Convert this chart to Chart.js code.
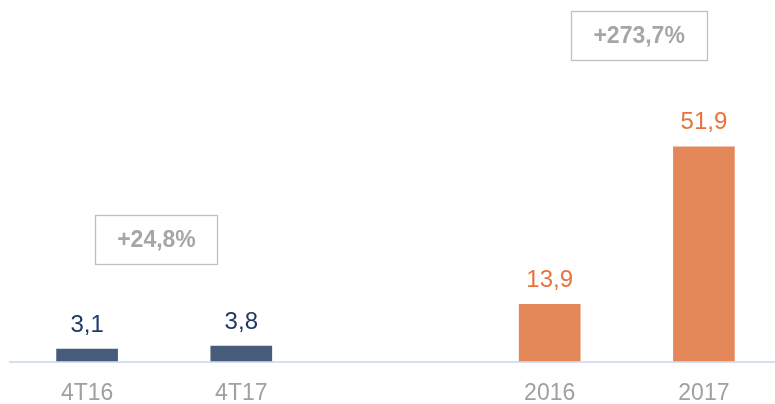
<!DOCTYPE html>
<html>
<head>
<meta charset="utf-8">
<script src="https://cdn.jsdelivr.net/npm/chart.js@4/dist/chart.umd.min.js"></script>
<style>
  html, body { margin: 0; padding: 0; background: #fff; overflow: hidden; }
  #wrap { width: 781px; height: 404px; position: relative; }
</style>
</head>
<body>
<div id="wrap"><canvas id="c"></canvas></div>
<script>
const categories = ['4T16', '4T17', '', '2016', '2017'];
const values = [3.1, 3.8, null, 13.9, 51.9];
const valueLabels = ['3,1', '3,8', '', '13,9', '51,9'];
const groups = ['q', 'q', '', 'y', 'y'];
const growthLabels = ['+24,8%', '+273,7%'];
const growthPos = [[0.45, 29.5], [3.58, 78.7]];

const barColors = { q: '#475B7A', y: '#E4885A', '': 'rgba(0,0,0,0)' };
const labelColors = { q: '#1F3864', y: '#E8743B', '': '#000' };

const FONT = '"Liberation Sans", Arial, sans-serif';

const overlay = {
  id: 'overlay',
  afterDatasetsDraw(chart) {
    const ctx = chart.ctx;
    const meta = chart.getDatasetMeta(0);
    ctx.save();
    ctx.font = '24px ' + FONT;
    ctx.textAlign = 'center';
    ctx.textBaseline = 'alphabetic';
    meta.data.forEach((bar, i) => {
      if (values[i] == null) return;
      ctx.fillStyle = labelColors[groups[i]];
      ctx.fillText(valueLabels[i], bar.x, bar.y - 17);
    });
    const xs = chart.scales.x, ys = chart.scales.y;
    const boxW = [122, 136], boxH = 49;
    growthLabels.forEach((t, i) => {
      const cx = xs.getPixelForValue(growthPos[i][0]);
      const cy = ys.getPixelForValue(growthPos[i][1]);
      ctx.strokeStyle = '#BFBFBF';
      ctx.lineWidth = 1.3;
      ctx.strokeRect(Math.round(cx - boxW[i] / 2) + 0.5, Math.round(cy - boxH / 2) + 0.5, boxW[i], boxH);
      ctx.fillStyle = '#A6A6A6';
      ctx.font = 'bold 23px ' + FONT;
      ctx.textBaseline = 'middle';
      ctx.fillText(t, cx, cy + 1);
    });
    ctx.restore();
  }
};

new Chart(document.getElementById('c'), {
  type: 'bar',
  data: {
    labels: categories,
    datasets: [{
      data: values,
      backgroundColor: groups.map(g => barColors[g]),
      borderWidth: 0,
      barPercentage: 0.4,
      categoryPercentage: 1
    }]
  },
  options: {
    responsive: true,
    maintainAspectRatio: false,
    animation: false,
    events: [],
    layout: { padding: { left: 10, right: 0, top: 30, bottom: 0 } },
    plugins: { legend: { display: false }, tooltip: { enabled: false } },
    scales: {
      x: {
        afterFit(scale) { scale.height = 42.5; },
        grid: { display: false, drawTicks: false },
        border: { display: true, color: '#D6E0F1', width: 2 },
        ticks: { color: '#A0A0A0', font: { family: FONT, size: 23, lineHeight: 1 }, padding: 21, maxRotation: 0, autoSkip: false }
      },
      y: {
        display: false,
        min: 0, max: 80
      }
    }
  },
  plugins: [overlay]
});
</script>
</body>
</html>
